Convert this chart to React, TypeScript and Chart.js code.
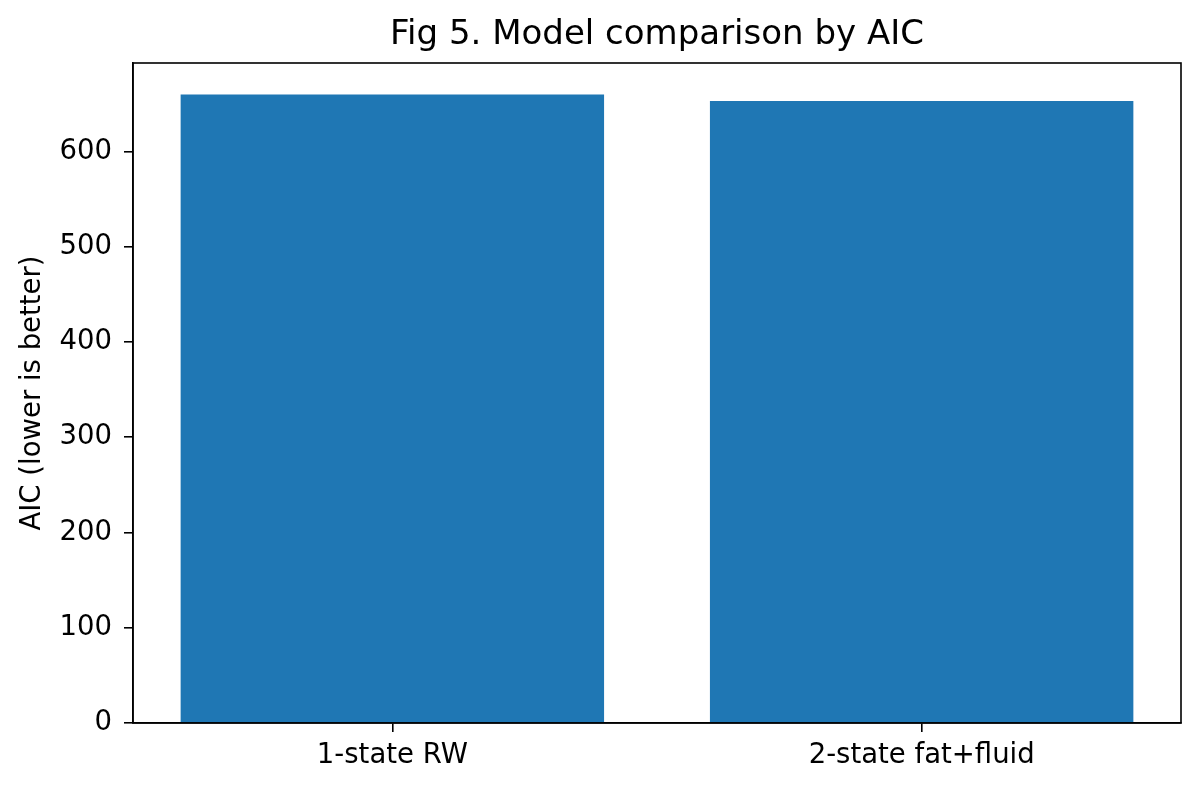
import { useEffect, useRef } from "react"
import { Chart, registerables } from "chart.js"

Chart.register(...registerables)

const models = ["1-state RW", "2-state fat+fluid"]
const aicValues = [660, 653]
const yTicks = [0, 100, 200, 300, 400, 500, 600]
const chartTitle = "Fig 5. Model comparison by AIC"

const FONT = "'DejaVu Sans', sans-serif"

// matplotlib-style frame around the plot area, title centred over the axes
const framePlugin = {
  id: "frame",
  afterDraw(chart: Chart) {
    const { ctx, chartArea } = chart
    ctx.save()
    ctx.strokeStyle = "#000"
    ctx.lineWidth = 1.6
    ctx.strokeRect(chartArea.left, chartArea.top, chartArea.right - chartArea.left, chartArea.bottom - chartArea.top)
    ctx.fillStyle = "#000"
    ctx.font = `34px ${FONT}`
    ctx.textAlign = "center"
    ctx.textBaseline = "middle"
    ctx.fillText(chartTitle, (chartArea.left + chartArea.right) / 2, chartArea.top - 28)
    ctx.restore()
  },
}

export default function App() {
  const canvasRef = useRef<HTMLCanvasElement>(null)

  useEffect(() => {
    document.body.style.margin = "0"
    if (!canvasRef.current) return
    const chart = new Chart(canvasRef.current, {
      type: "bar",
      data: {
        datasets: [
          {
            data: aicValues.map((v, i) => ({ x: i, y: v })),
            backgroundColor: "#1f77b4",
            barPercentage: 0.8,
            categoryPercentage: 1,
          },
        ],
      },
      options: {
        responsive: false,
        animation: false,
        layout: { padding: { left: 0, right: 19, top: 63, bottom: 0 } },
        plugins: {
          legend: { display: false },
          tooltip: { enabled: false },
          title: { display: false },
        },
        scales: {
          x: {
            type: "linear",
            offset: false,
            min: -0.49,
            max: 1.49,
            afterBuildTicks: (scale: any) => {
              scale.ticks = models.map((_, i) => ({ value: i }))
            },
            afterFit: (scale: any) => {
              scale.height = 68
            },
            grid: { offset: false, drawOnChartArea: false, drawTicks: true, tickLength: 9, color: "#000", lineWidth: 1.6 },
            border: { display: true, color: "#000", width: 1.6 },
            ticks: {
              color: "#000",
              font: { family: FONT, size: 27.5 },
              padding: 7,
              callback: (value: any) => models[Math.round(Number(value))] ?? "",
            },
          },
          y: {
            min: 0,
            max: 693,
            afterBuildTicks: (scale: any) => {
              scale.ticks = yTicks.map((v) => ({ value: v }))
            },
            afterFit: (scale: any) => {
              scale.width = 133
            },
            title: {
              display: true,
              text: "AIC (lower is better)",
              color: "#000",
              font: { family: FONT, size: 27.5 },
              padding: { top: 16, bottom: 0 },
            },
            grid: { drawOnChartArea: false, drawTicks: true, tickLength: 9, color: "#000", lineWidth: 1.6 },
            border: { display: true, color: "#000", width: 1.6 },
            ticks: { color: "#000", font: { family: FONT, size: 27.5 }, padding: 12 },
          },
        },
      },
      plugins: [framePlugin],
    })
    return () => chart.destroy()
  }, [])

  return (
    <div style={{ width: 1200, height: 791, background: "#fff" }}>
      <canvas ref={canvasRef} width={1200} height={791} style={{ width: 1200, height: 791 }} />
    </div>
  )
}
